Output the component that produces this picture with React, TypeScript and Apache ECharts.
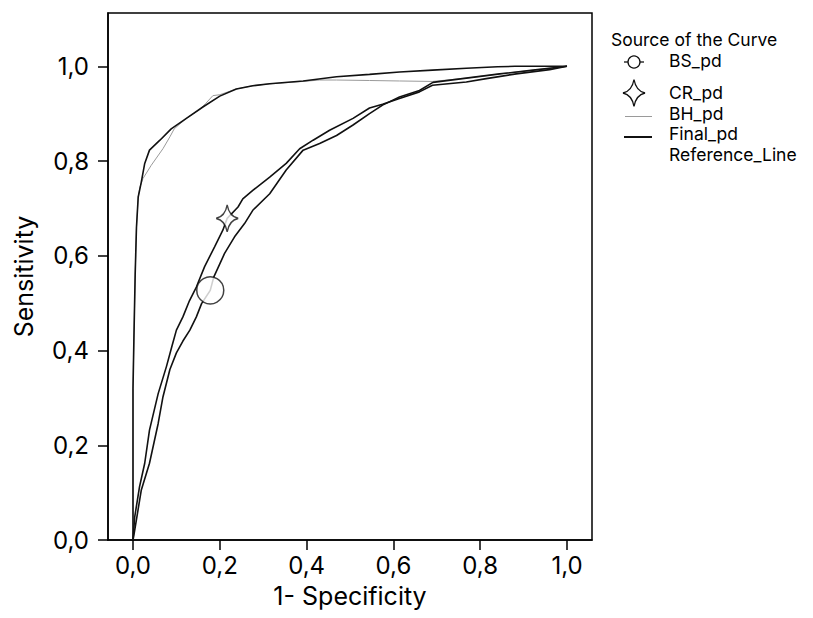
import React, { useEffect, useRef } from "react";
import * as echarts from "echarts";

// ---- data ----
const xTicks = [0, 0.2, 0.4, 0.6, 0.8, 1.0];
const yTicks = [0, 0.2, 0.4, 0.6, 0.8, 1.0];

const bsPd = [
  [0, 0], [0.004, 0.021], [0.019, 0.105], [0.038, 0.162], [0.058, 0.246], [0.069, 0.302],
  [0.085, 0.36], [0.1, 0.395], [0.115, 0.42], [0.131, 0.443], [0.146, 0.471], [0.158, 0.499],
  [0.178, 0.527], [0.186, 0.555], [0.2, 0.583], [0.211, 0.605], [0.234, 0.64], [0.257, 0.668],
  [0.276, 0.696], [0.315, 0.731], [0.353, 0.781], [0.392, 0.823], [0.43, 0.837], [0.469, 0.854],
  [0.507, 0.876], [0.545, 0.9], [0.575, 0.918], [0.614, 0.935], [0.66, 0.949], [0.691, 0.966],
  [0.768, 0.975], [0.845, 0.984], [0.922, 0.992], [1, 1],
];

const crPd = [
  [0, 0], [0.004, 0.049], [0.015, 0.112], [0.027, 0.162], [0.038, 0.232], [0.058, 0.309],
  [0.077, 0.366], [0.09, 0.41], [0.1, 0.443], [0.115, 0.471], [0.13, 0.505], [0.146, 0.534],
  [0.165, 0.577], [0.188, 0.619], [0.207, 0.654], [0.217, 0.679], [0.242, 0.703], [0.253, 0.72],
  [0.276, 0.738], [0.315, 0.766], [0.353, 0.795], [0.384, 0.826], [0.415, 0.844], [0.453, 0.865],
  [0.507, 0.89], [0.545, 0.912], [0.575, 0.92], [0.614, 0.932], [0.66, 0.946], [0.69, 0.96],
  [0.768, 0.967], [0.814, 0.974], [0.883, 0.984], [0.96, 0.993], [1, 1],
];

const bhPd = [
  [0, 0], [0, 0.32], [0.002, 0.42], [0.005, 0.56], [0.008, 0.66], [0.012, 0.724], [0.016, 0.745],
  [0.023, 0.763], [0.042, 0.791], [0.069, 0.826], [0.085, 0.851], [0.095, 0.868], [0.123, 0.89],
  [0.155, 0.91], [0.168, 0.922], [0.184, 0.938], [0.2, 0.94], [0.238, 0.952], [0.276, 0.959],
  [0.315, 0.963], [0.392, 0.968], [0.43, 0.971], [0.469, 0.971], [0.545, 0.97], [0.614, 0.969],
  [0.69, 0.968], [0.768, 0.975], [0.845, 0.984], [0.922, 0.992], [1, 1],
];

const finalPd = [
  [0, 0], [0, 0.32], [0.002, 0.42], [0.005, 0.56], [0.008, 0.66], [0.012, 0.724], [0.019, 0.755],
  [0.027, 0.795], [0.038, 0.823], [0.062, 0.844], [0.088, 0.868], [0.123, 0.89], [0.161, 0.914],
  [0.2, 0.937], [0.238, 0.952], [0.276, 0.959], [0.315, 0.963], [0.392, 0.969], [0.469, 0.978],
  [0.545, 0.983], [0.614, 0.988], [0.69, 0.992], [0.768, 0.996], [0.84, 0.999], [0.88, 1.0], [1, 1],
];

const referenceLine = [[0, 0], [1, 1]];

const bsMarker = [[0.178, 0.527]];
const crMarker = [[0.217, 0.679]];

const legendTitle = "Source of the Curve";
const legendNames = ["BS_pd", "CR_pd", "BH_pd", "Final_pd", "Reference_Line"];

// ---- shapes ----
const STAR_D = "M0,-13.5 Q2,-2 11,0 Q2,2 0,13.5 Q-2,2 -11,0 Q-2,-2 0,-13.5 Z";
const STAR_SYMBOL = "path://M11,0 Q13,11.5 22,13.5 Q13,15.5 11,27 Q9,15.5 0,13.5 Q9,11.5 11,0 Z";
echarts.graphic.registerShape("star4", echarts.graphic.extendPath(STAR_D, {}));

const FONT = "Inter";
const LEGEND_SIZE = 17.5;
const fmt = (v: number) => v.toFixed(1).replace(".", ",");

export default function App() {
  const ref = useRef<HTMLDivElement>(null);

  useEffect(() => {
    if (!ref.current) return;
    const chart = echarts.init(ref.current, undefined, { renderer: "svg" });

    const line = (name: string, data: number[][], color: string, width: number, z: number) => ({
      type: "line",
      name,
      data,
      symbol: "none",
      showSymbol: false,
      lineStyle: { color, width },
      itemStyle: { color },
      z,
      silent: true,
      emphasis: { disabled: true },
    });

    const legendText = (text: string, x: number, y: number) => ({
      type: "text",
      x,
      y,
      silent: true,
      style: {
        text,
        fill: "#000",
        font: `${LEGEND_SIZE}px ${FONT}`,
        lineHeight: 16,
        align: "left",
        verticalAlign: "middle",
      },
    });

    const option: any = {
      animation: false,
      backgroundColor: "#fff",
      grid: {
        left: 108,
        top: 13,
        right: 221,
        bottom: 78,
        show: true,
        borderColor: "#000",
        borderWidth: 1.5,
        backgroundColor: "transparent",
      },
      xAxis: {
        type: "value",
        min: -0.0576,
        max: 1.0576,
        name: "1- Specificity",
        nameLocation: "middle",
        nameGap: 43,
        nameTextStyle: { fontSize: 25, fontFamily: FONT, color: "#000" },
        axisLine: { show: true, onZero: false, lineStyle: { color: "#000", width: 1.5 } },
        axisTick: { show: true, length: 10, customValues: xTicks, lineStyle: { color: "#000", width: 1.5 } },
        axisLabel: {
          customValues: xTicks,
          formatter: fmt,
          fontSize: 24,
          fontFamily: FONT,
          color: "#000",
          margin: 13,
        },
        splitLine: { show: false },
      },
      yAxis: {
        type: "value",
        min: 0,
        max: 1.1125,
        name: "Sensitivity",
        nameLocation: "middle",
        nameGap: 72,
        nameTextStyle: { fontSize: 25, fontFamily: FONT, color: "#000" },
        axisLine: { show: true, onZero: false, lineStyle: { color: "#000", width: 1.5 } },
        axisTick: { show: true, length: 10, customValues: yTicks, lineStyle: { color: "#000", width: 1.5 } },
        axisLabel: {
          customValues: yTicks,
          formatter: fmt,
          fontSize: 24,
          fontFamily: FONT,
          color: "#000",
          margin: 19,
        },
        splitLine: { show: false },
      },
      visualMap: [
        {
          type: "piecewise",
          show: false,
          seriesIndex: 4,
          dimension: 1,
          pieces: [
            { gte: -1, lt: 0.33, color: "#8c8c8c" },
            { gte: 0.33, lte: 2, color: "#111" },
          ],
        },
      ],
      series: [
        line("Reference_Line", referenceLine, "#ffffff", 1, 1),
        line("BH_pd", bhPd, "#9a9a9a", 1, 2),
        line("BS_pd", bsPd, "#111", 1.6, 3),
        line("CR_pd", crPd, "#111", 1.6, 3),
        line("Final_pd", finalPd, "#111", 1.6, 3),
        {
          type: "scatter",
          name: "BS_pd marker",
          data: bsMarker,
          symbol: "circle",
          symbolSize: 27,
          itemStyle: { color: "#fff", borderColor: "#111", borderWidth: 1.5 },
          z: 5,
          silent: true,
        },
        {
          type: "scatter",
          name: "CR_pd marker",
          data: crMarker,
          symbol: STAR_SYMBOL,
          symbolSize: [22, 27],
          symbolKeepAspect: false,
          itemStyle: { color: "#fff", borderColor: "#111", borderWidth: 1.5 },
          z: 5,
          silent: true,
        },
      ],
      graphic: [
        legendText(legendTitle, 611, 39),
        // BS_pd
        { type: "line", silent: true, shape: { x1: 624, y1: 62, x2: 644, y2: 62 }, style: { stroke: "#111", lineWidth: 1.3 } },
        { type: "circle", silent: true, shape: { cx: 634, cy: 62, r: 6 }, style: { fill: "#fff", stroke: "#111", lineWidth: 1.3 } },
        legendText(legendNames[0], 669, 60),
        // CR_pd
        { type: "line", silent: true, shape: { x1: 623, y1: 93, x2: 645, y2: 93 }, style: { stroke: "#111", lineWidth: 1.3 } },
        { type: "star4", silent: true, x: 634, y: 93, style: { fill: "#fff", stroke: "#111", lineWidth: 1.3 } },
        legendText(legendNames[1], 669, 92.5),
        // BH_pd
        { type: "line", silent: true, shape: { x1: 625, y1: 116.5, x2: 652, y2: 116.5 }, style: { stroke: "#9a9a9a", lineWidth: 1 } },
        legendText(legendNames[2], 669, 113),
        // Final_pd
        { type: "line", silent: true, shape: { x1: 624, y1: 137, x2: 652, y2: 137 }, style: { stroke: "#111", lineWidth: 2 } },
        legendText(legendNames[3], 669, 133.5),
        // Reference_Line (no visible icon)
        legendText(legendNames[4], 669, 154.5),
      ],
    };

    chart.setOption(option);
    return () => chart.dispose();
  }, []);

  return <div ref={ref} style={{ position: "fixed", left: 0, top: 0, width: 813, height: 618 }} />;
}
